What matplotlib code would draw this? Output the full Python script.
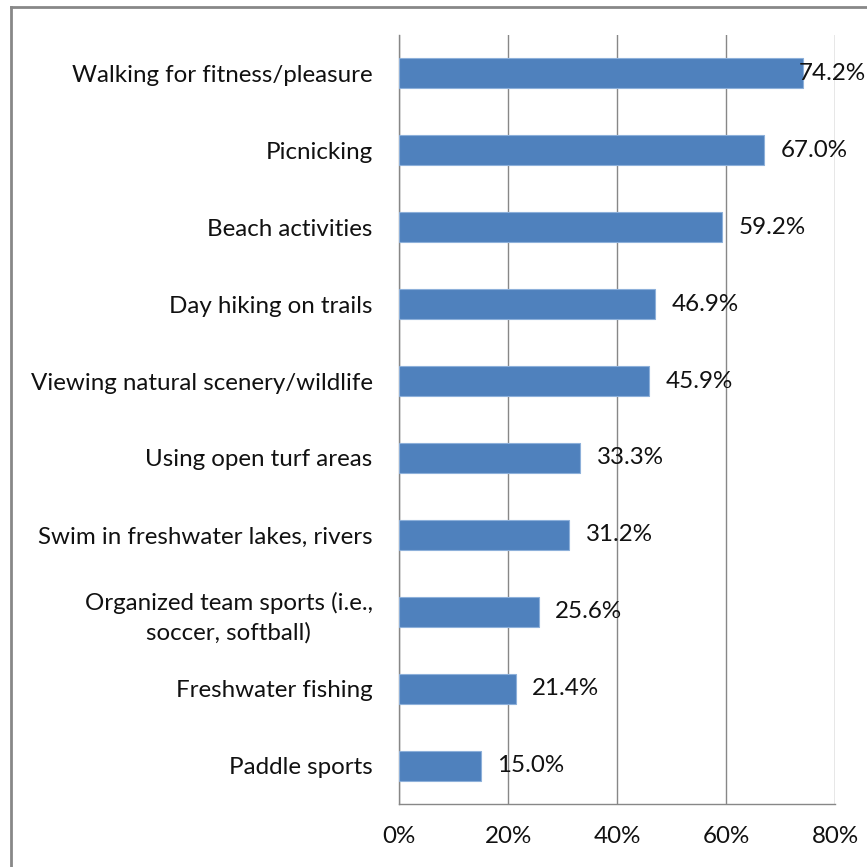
import matplotlib
matplotlib.use("Agg")
import matplotlib.pyplot as plt
from matplotlib.lines import Line2D

categories = [
    "Walking for fitness/pleasure",
    "Picnicking",
    "Beach activities",
    "Day hiking on trails",
    "Viewing natural scenery/wildlife",
    "Using open turf areas",
    "Swim in freshwater lakes, rivers",
    "Organized team sports (i.e.,\nsoccer, softball)",
    "Freshwater fishing",
    "Paddle sports",
]
values = [74.2, 67.0, 59.2, 46.9, 45.9, 33.3, 31.2, 25.6, 21.4, 15.0]
xticks = [0, 20, 40, 60, 80]
xtick_labels = ["0%", "20%", "40%", "60%", "80%"]

plt.rcParams['font.family'] = ['Lato', 'DejaVu Sans']
FS = 17.4

W = H = 867
fig = plt.figure(figsize=(W / 100, H / 100), dpi=100)
ax = fig.add_axes([399 / W, 63 / H, (835 - 399) / W, (804 - 35) / H])

n = len(categories)
ypos = list(range(n))
ax.barh(ypos, values, height=0.39, color="#4F81BD", edgecolor="#8DB0DA",
        linewidth=0.8, zorder=3)
ax.set_ylim(n - 0.5, -0.5)
ax.set_xlim(0, 80)
ax.set_yticks(ypos)
ax.set_yticklabels(categories, fontsize=FS, color="#111111")
for lbl in ax.get_yticklabels():
    lbl.set_multialignment("center")
    lbl.set_linespacing(1.45)
ax.set_xticks(xticks)
ax.set_xticklabels(xtick_labels, fontsize=FS, color="#111111")
ax.tick_params(axis="y", length=0, pad=19)
ax.tick_params(axis="x", length=0, pad=16)
ax.grid(axis="x", color="#878787", linewidth=1.0, zorder=0)
ax.set_axisbelow(True)
for s in ["top", "right"]:
    ax.spines[s].set_visible(False)
for s in ["left", "bottom"]:
    ax.spines[s].set_color("#878787")
    ax.spines[s].set_linewidth(1.0)

texts = []
for y, v in zip(ypos, values):
    t = ax.annotate(f"{v:.1f}%", xy=(v, y), xytext=(12, 0), textcoords="offset points",
                    ha="left", va="center", fontsize=FS, color="#111111", zorder=5)
    texts.append(t)

fig.canvas.draw()
renderer = fig.canvas.get_renderer()
for t in texts:
    bb = t.get_window_extent(renderer)
    if bb.x1 > W - 1:
        shift = bb.x1 - (W - 1)
        t.set_position((12 - shift * 72 / 100, 0))

# outer chart frame (left and top edges visible)
fig.add_artist(Line2D([11 / W, 11 / W], [0, 1 - 7 / H], transform=fig.transFigure,
                      color="#888888", linewidth=2.0))
fig.add_artist(Line2D([11 / W, 1.0], [1 - 7 / H, 1 - 7 / H], transform=fig.transFigure,
                      color="#888888", linewidth=2.0))

fig.savefig("out.png", dpi=100)
